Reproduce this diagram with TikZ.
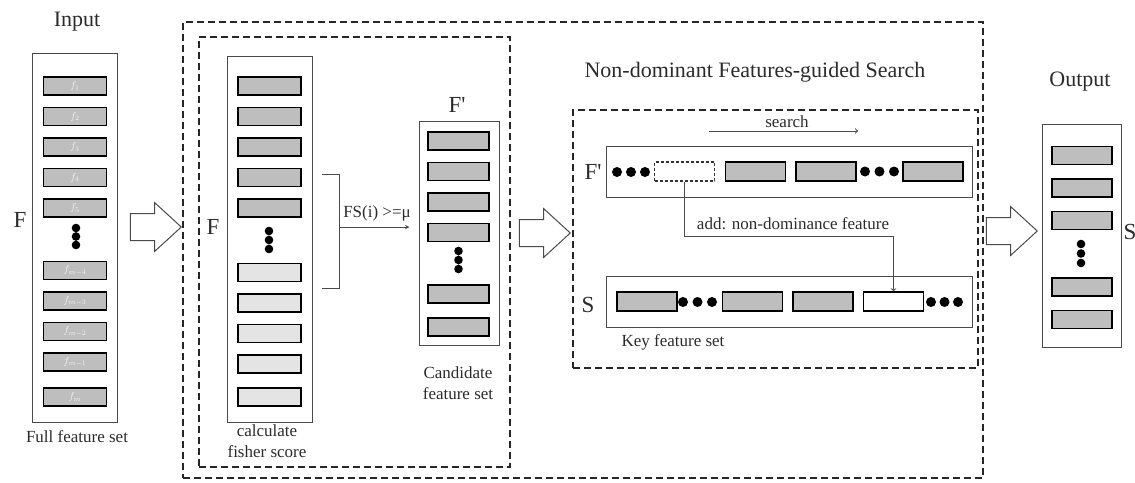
\documentclass[tikz,border=0pt]{standalone}
\usepackage{fontspec}
\setmainfont{Liberation Serif}
\usetikzlibrary{shapes.arrows, arrows, positioning}

\definecolor{featgray}{HTML}{BEBEBE}
\definecolor{featlight}{HTML}{E4E4E4}
\definecolor{linegray}{HTML}{4A4A4A}
\definecolor{textgray}{HTML}{2B2B2B}

\tikzstyle{feat} = [rectangle, draw=black, line width=1.5pt, fill=featgray, minimum width=63pt, minimum height=18pt, inner sep=0pt]
\tikzstyle{narrowfeat} = [feat, minimum width=61pt]
\tikzstyle{lightfeat} = [feat, fill=featlight]
\tikzstyle{rowfeat} = [feat, minimum width=60pt, minimum height=19pt]
\tikzstyle{emptyfeat} = [rowfeat, fill=white]
\tikzstyle{candfeat} = [rowfeat, fill=white, draw=black!80, line width=1.1pt, dash pattern=on 3pt off 2pt]
\tikzstyle{column} = [rectangle, draw=linegray, line width=1pt, inner sep=0pt]
\tikzstyle{stage} = [rectangle, draw=black!85, line width=1.2pt, dash pattern=on 7pt off 4pt, inner sep=0pt]
\tikzstyle{bigarrow} = [single arrow, draw=linegray, line width=1pt, fill=white, minimum height=51pt, minimum width=48pt, single arrow head extend=11pt, single arrow tip angle=85, inner xsep=0pt, inner ysep=13pt, anchor=tip]
\tikzstyle{connector} = [draw=linegray, line width=1pt]
\tikzstyle{arrow} = [connector, ->, >=stealth]
\tikzstyle{openarrow} = [connector, ->, >=to]
\tikzstyle{smalltext} = [text=textgray, font=\fontsize{17}{21}\selectfont, align=center, inner sep=0pt]
\tikzstyle{titletext} = [text=textgray, font=\fontsize{22}{26}\selectfont, inner sep=0pt]
\tikzstyle{setname} = [text=textgray, font=\fontsize{23}{26}\selectfont, inner sep=0pt]

\begin{document}
\begin{tikzpicture}[x=1pt, y=1pt, node distance=30.5pt]

    \useasboundingbox (0,0) rectangle (1135,-482);

    % stages
    \node (outerstage) [stage, minimum width=800pt, minimum height=456pt] at (583,-250) {};
    \node (fisherstage) [stage, minimum width=311pt, minimum height=430pt] at (354.5,-252) {};
    \node (searchstage) [stage, minimum width=405pt, minimum height=258pt] at (775.5,-239) {};

    % input
    \node (inputlbl) [titletext] at (77,-22) {Input};
    \node (inputbox) [column, minimum width=85pt, minimum height=369pt] at (74.5,-237.5) {};
    \node (f1) [feat] at (75,-86) {\textcolor{white!85!featgray}{\fontsize{10}{12}\selectfont$f_1$}};
    \node (f2) [feat, below of=f1] {\textcolor{white!85!featgray}{\fontsize{10}{12}\selectfont$f_2$}};
    \node (f3) [feat, below of=f2] {\textcolor{white!85!featgray}{\fontsize{10}{12}\selectfont$f_3$}};
    \node (f4) [feat, below of=f3] {\textcolor{white!85!featgray}{\fontsize{10}{12}\selectfont$f_4$}};
    \node (f5) [feat, below of=f4] {\textcolor{white!85!featgray}{\fontsize{10}{12}\selectfont$f_5$}};
    \fill (76,-228) circle (4.3pt) (76,-236.5) circle (4.3pt) (76,-245) circle (4.3pt);
    \node (fm4) [feat] at (75,-270.5) {\textcolor{white!85!featgray}{\fontsize{10}{12}\selectfont$f_{m-4}$}};
    \node (fm3) [feat, below of=fm4] {\textcolor{white!85!featgray}{\fontsize{10}{12}\selectfont$f_{m-3}$}};
    \node (fm2) [feat, below of=fm3] {\textcolor{white!85!featgray}{\fontsize{10}{12}\selectfont$f_{m-2}$}};
    \node (fm1) [feat, below of=fm2] {\textcolor{white!85!featgray}{\fontsize{10}{12}\selectfont$f_{m-1}$}};
    \node (fm) [feat] at (75,-397) {\textcolor{white!85!featgray}{\fontsize{10}{12}\selectfont$f_m$}};
    \node (Fin) [setname] at (20,-220) {F};
    \node (fullname) [smalltext] at (77,-437) {Full feature set};

    \node (a1) [bigarrow] at (182,-227) {};

    % fisher score
    \node (fisherbox) [column, minimum width=85pt, minimum height=366pt] at (269.5,-239) {};
    \node (c1) [feat] at (269.5,-86) {};
    \node (c2) [feat, below of=c1] {};
    \node (c3) [feat, below of=c2] {};
    \node (c4) [feat, below of=c3] {};
    \node (c5) [feat, below of=c4] {};
    \fill (269,-231) circle (4.3pt) (269,-240) circle (4.3pt) (269,-249) circle (4.3pt);
    \node (l1) [lightfeat] at (269.5,-272.5) {};
    \node (l2) [lightfeat, below of=l1] {};
    \node (l3) [lightfeat, below of=l2] {};
    \node (l4) [lightfeat, below of=l3] {};
    \node (l5) [lightfeat] at (269.5,-397) {};
    \node (Ffisher) [setname] at (213,-227) {F};
    \node (fishername) [smalltext] at (267,-441) {calculate\\fisher score};

    \coordinate (brtop) at (322,-174);
    \coordinate (brbot) at (322,-288);
    \coordinate (brmid) at (339,-227);
    \draw [connector] (brtop) -- ++(17,0) |- (brbot);

    % candidate set
    \node (candbox) [column, minimum width=80pt, minimum height=224pt] at (459,-233) {};
    \node (p1) [narrowfeat] at (458.5,-141) {};
    \node (p2) [narrowfeat, below of=p1] {};
    \node (p3) [narrowfeat, below of=p2] {};
    \node (p4) [narrowfeat, below of=p3] {};
    \fill (458.5,-251) circle (4.3pt) (458.5,-260) circle (4.3pt) (458.5,-269) circle (4.3pt);
    \node (p5) [narrowfeat] at (458.5,-294) {};
    \node (p6) [narrowfeat] at (458.5,-327) {};
    \node (Fprime) [setname] at (457,-105) {F\textquotesingle};
    \node (candname) [smalltext] at (458,-383) {Candidate\\feature set};

    \draw [arrow, shorten >=9pt] (brmid) -- (brmid -| candbox.west);
    \node (fslbl) [smalltext] at (377,-213) {FS(i) >=μ};

    \node (a2) [bigarrow] at (571,-233) {};

    % non-dominant search
    \node (searchtitle) [titletext] at (755,-72) {Non-dominant Features-guided Search};
    \node (fprow) [column, minimum width=366pt, minimum height=51pt] at (789,-171.5) {};
    \node (srow) [column, minimum width=366pt, minimum height=51pt] at (789,-301.5) {};
    \node (Frow) [setname] at (593,-172) {F\textquotesingle};
    \node (Srow) [setname] at (588,-305) {S};

    \fill (617,-172) circle (5pt) (631,-172) circle (5pt) (645,-172) circle (5pt);
    \node (cand) [candfeat] at (684.5,-171.5) {};
    \node (r1) [rowfeat] at (755.5,-171.5) {};
    \node (r2) [rowfeat, right=9pt of r1] {};
    \fill (865,-171.5) circle (5pt) (879.5,-171.5) circle (5pt) (894,-171.5) circle (5pt);
    \node (r3) [rowfeat] at (933,-171.5) {};

    \node (k1) [rowfeat] at (647,-301.5) {};
    \fill (683,-302) circle (5pt) (697.5,-302) circle (5pt) (712,-302) circle (5pt);
    \node (k2) [rowfeat] at (752.5,-301.5) {};
    \node (k3) [rowfeat, right=9pt of k2] {};
    \node (newkey) [emptyfeat, right=9pt of k3] {};
    \fill (931,-302) circle (5pt) (944.5,-302) circle (5pt) (958,-302) circle (5pt);
    \node (keyname) [smalltext] at (673,-342) {Key feature set};

    \coordinate (searchfrom) at (709,-131);
    \coordinate (searchto) at (858,-131);
    \draw [openarrow] (searchfrom) -- (searchto);
    \node (searchlbl) [smalltext] at (787,-122) {search};

    \draw [openarrow] (cand.south) -- ++(0,-55) -| (newkey.north);
    \node (addlbl) [smalltext] at (793,-224) {add: non-dominance feature};

    \node (a3) [bigarrow] at (1038,-231) {};

    % output
    \node (outputlbl) [titletext] at (1080,-82) {Output};
    \node (outbox) [column, minimum width=79pt, minimum height=223pt] at (1081.5,-235.5) {};
    \begin{scope}[node distance=32.5pt]
        \node (o1) [narrowfeat, minimum width=60pt] at (1082,-155.5) {};
        \node (o2) [narrowfeat, minimum width=60pt, below of=o1] {};
        \node (o3) [narrowfeat, minimum width=60pt, below of=o2] {};
        \node (o4) [narrowfeat, minimum width=60pt] at (1082,-287) {};
        \node (o5) [narrowfeat, minimum width=60pt, below of=o4] {};
    \end{scope}
    \fill (1081,-244) circle (4.3pt) (1081,-253.5) circle (4.3pt) (1081,-263) circle (4.3pt);
    \node (Sout) [setname] at (1130,-232) {S};

\end{tikzpicture}
\end{document}
